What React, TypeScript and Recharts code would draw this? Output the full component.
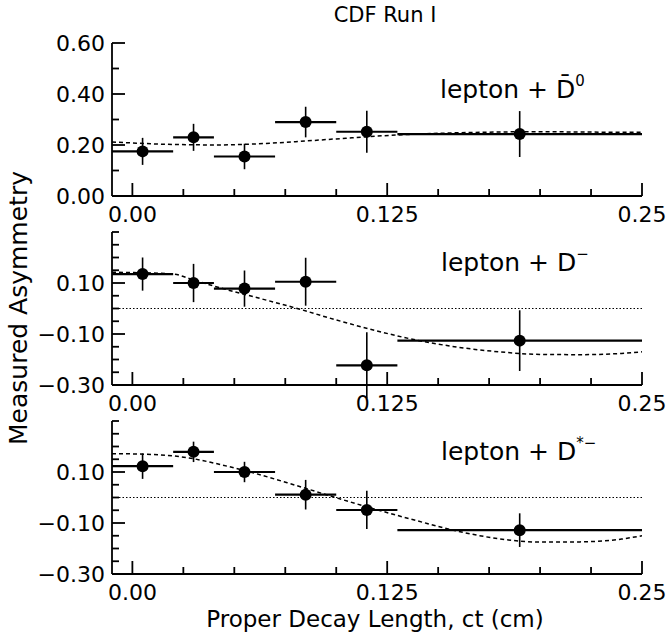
import React from 'react';
import { ComposedChart, Scatter, Line, XAxis, YAxis, ErrorBar, ReferenceLine } from 'recharts';

// bins in proper decay length ct (cm)
const binCenter = [0.005, 0.03, 0.055, 0.085, 0.115, 0.19];
const binLow = [-0.01, 0.02, 0.04, 0.07, 0.1, 0.13];
const binHigh = [0.02, 0.04, 0.07, 0.1, 0.13, 0.25];

// lepton + anti-D0
const d0Asym = [0.175, 0.23, 0.155, 0.29, 0.252, 0.243];
const d0Err = [0.053, 0.053, 0.05, 0.06, 0.082, 0.09];
// lepton + D-
const dmAsym = [0.135, 0.1, 0.078, 0.105, -0.223, -0.126];
const dmErr = [0.065, 0.075, 0.071, 0.094, 0.13, 0.119];
// lepton + D*-
const dsAsym = [0.123, 0.179, 0.1, 0.011, -0.049, -0.128];
const dsErr = [0.05, 0.04, 0.04, 0.058, 0.075, 0.066];

// fitted curves
const fitT = [-0.01, 0, 0.02, 0.03, 0.04, 0.06, 0.08, 0.1, 0.12, 0.14, 0.16, 0.18, 0.2, 0.22, 0.24, 0.25];
const d0Fit = [0.212, 0.208, 0.202, 0.201, 0.2, 0.204, 0.213, 0.224, 0.235, 0.243, 0.248, 0.251, 0.252, 0.251, 0.25, 0.25];
const dmFit = [0.142, 0.141, 0.135, 0.112, 0.088, 0.045, 0.002, -0.045, -0.088, -0.125, -0.152, -0.17, -0.18, -0.181, -0.176, -0.17];
const dsFit = [0.172, 0.171, 0.163, 0.152, 0.135, 0.095, 0.048, -0.001, -0.048, -0.092, -0.133, -0.162, -0.175, -0.174, -0.163, -0.15];

const xTicksAll = [0, 0.025, 0.05, 0.075, 0.1, 0.125, 0.15, 0.175, 0.2, 0.225, 0.25];
const xMajor = [0, 0.125, 0.25];
const xMajorLabels = ['0.00', '0.125', '0.25'];

const y1TicksAll = [0, 0.1, 0.2, 0.3, 0.4, 0.5, 0.6];
const y1Major = [0, 0.2, 0.4, 0.6];
const y1MajorLabels = ['0.00', '0.20', '0.40', '0.60'];

const y2TicksAll = [-0.3, -0.25, -0.2, -0.15, -0.1, -0.05, 0, 0.05, 0.1, 0.15, 0.2, 0.25, 0.3];
const y2Major = [-0.3, -0.1, 0.1];
const y2MajorLabels = ['\u22120.30', '\u22120.10', '0.10'];

const FONT = 'DejaVu Sans';
const TICK_FS = 22;
const PLOT_H = 153;
const M_TOP = 16;
const XAX_H = 40;
const LEFT_W = 112;
const RIGHT_M = 26;
const W = 668;

const near = (a: number, b: number) => Math.abs(a - b) < 1e-6;

function makePoints(asym: number[], err: number[]) {
  return binCenter.map((t, i) => ({
    t,
    a: asym[i],
    ey: err[i],
    ex: [t - binLow[i], binHigh[i] - t],
  }));
}
function makeFit(vals: number[]) {
  return fitT.map((t, i) => ({ t, fit: vals[i] }));
}

const Dot = (p: any) => <circle cx={p.cx} cy={p.cy} r={6} fill="#000" />;

function XTick(side: 'bottom' | 'top') {
  return (props: any) => {
    const { x, y, payload } = props;
    const idx = xMajor.findIndex((m) => near(m, payload.value));
    const major = idx >= 0;
    const len = major ? 13 : 7;
    const dir = side === 'bottom' ? -1 : 1;
    return (
      <g>
        <line x1={x} x2={x} y1={y} y2={y + dir * len} stroke="#000" strokeWidth={1.8} />
        {side === 'bottom' && major ? (
          <text x={x} y={y + 26} textAnchor="middle" fontFamily={FONT} fontSize={TICK_FS} fill="#000">
            {xMajorLabels[idx]}
          </text>
        ) : null}
      </g>
    );
  };
}

function YTick(side: 'left' | 'right', majors: number[], labels: string[]) {
  return (props: any) => {
    const { x, y, payload } = props;
    const idx = majors.findIndex((m) => near(m, payload.value));
    const major = idx >= 0;
    const len = major ? 13 : 7;
    const dir = side === 'left' ? 1 : -1;
    return (
      <g>
        <line x1={x} x2={x + dir * len} y1={y} y2={y} stroke="#000" strokeWidth={1.8} />
        {side === 'left' && major ? (
          <text x={x - 7} y={y} dy="0.36em" textAnchor="end" fontFamily={FONT} fontSize={TICK_FS} fill="#000">
            {labels[idx]}
          </text>
        ) : null}
      </g>
    );
  };
}

type PanelProps = {
  top: number;
  points: any[];
  fit: any[];
  yDomain: [number, number];
  yTicks: number[];
  yMajor: number[];
  yLabels: string[];
  zeroLine: boolean;
};

function Panel({ top, points, fit, yDomain, yTicks, yMajor, yLabels, zeroLine }: PanelProps) {
  const H = M_TOP + PLOT_H + XAX_H;
  return (
    <div style={{ position: 'absolute', left: 0, top: top - M_TOP, width: W, height: H }}>
      <ComposedChart width={W} height={H} margin={{ top: M_TOP, right: RIGHT_M, bottom: 0, left: 0 }}>
        <XAxis
          dataKey="t"
          type="number"
          domain={[-0.01, 0.25]}
          allowDataOverflow
          ticks={xTicksAll}
          interval={0}
          height={XAX_H}
          tickSize={0}
          tickMargin={0}
          tickLine={false}
          axisLine={{ stroke: '#000', strokeWidth: 1.8 }}
          tick={XTick('bottom')}
        />
        <XAxis
          xAxisId="top"
          orientation="top"
          dataKey="t"
          type="number"
          domain={[-0.01, 0.25]}
          allowDataOverflow
          ticks={xTicksAll}
          interval={0}
          height={0}
          tickSize={0}
          tickMargin={0}
          tickLine={false}
          axisLine={{ stroke: '#000', strokeWidth: 1.8 }}
          tick={XTick('top')}
        />
        <YAxis
          type="number"
          domain={yDomain}
          allowDataOverflow
          ticks={yTicks}
          interval={0}
          width={LEFT_W}
          tickSize={0}
          tickMargin={0}
          tickLine={false}
          axisLine={{ stroke: '#000', strokeWidth: 1.8 }}
          tick={YTick('left', yMajor, yLabels)}
        />
        <YAxis
          yAxisId="right"
          orientation="right"
          type="number"
          domain={yDomain}
          allowDataOverflow
          ticks={yTicks}
          interval={0}
          width={0}
          tickSize={0}
          tickMargin={0}
          tickLine={false}
          axisLine={{ stroke: '#000', strokeWidth: 1.8 }}
          tick={YTick('right', yMajor, yLabels)}
        />
        {zeroLine && <ReferenceLine y={0} stroke="#000" strokeWidth={1} strokeDasharray="1.5 2" />}
        <Line
          data={fit}
          dataKey="fit"
          type="monotone"
          stroke="#000"
          strokeWidth={1.5}
          strokeDasharray="4 3"
          dot={false}
          activeDot={false}
          isAnimationActive={false}
        />
        <Scatter data={points} dataKey="a" shape={Dot} isAnimationActive={false}>
          <ErrorBar dataKey="ey" direction="y" width={0} stroke="#000" strokeWidth={1.6} isAnimationActive={false} />
          <ErrorBar dataKey="ex" direction="x" width={0} stroke="#000" strokeWidth={2.2} isAnimationActive={false} />
        </Scatter>
      </ComposedChart>
    </div>
  );
}

export default function App() {
  return (
    <div style={{ position: 'absolute', left: 0, top: 0, width: W, height: 632, background: '#fff' }}>
      <Panel
        top={43}
        points={makePoints(d0Asym, d0Err)}
        fit={makeFit(d0Fit)}
        yDomain={[0, 0.6]}
        yTicks={y1TicksAll}
        yMajor={y1Major}
        yLabels={y1MajorLabels}
        zeroLine={false}
      />
      <Panel
        top={232}
        points={makePoints(dmAsym, dmErr)}
        fit={makeFit(dmFit)}
        yDomain={[-0.3, 0.3]}
        yTicks={y2TicksAll}
        yMajor={y2Major}
        yLabels={y2MajorLabels}
        zeroLine={true}
      />
      <Panel
        top={421}
        points={makePoints(dsAsym, dsErr)}
        fit={makeFit(dsFit)}
        yDomain={[-0.3, 0.3]}
        yTicks={y2TicksAll}
        yMajor={y2Major}
        yLabels={y2MajorLabels}
        zeroLine={true}
      />
      <svg
        width={W}
        height={632}
        style={{ position: 'absolute', left: 0, top: 0, pointerEvents: 'none' }}
        fontFamily={FONT}
        fill="#000"
      >
        <text x={385} y={22} textAnchor="middle" fontSize={21}>CDF Run I</text>
        <text x={440} y={98} fontSize={25}>
          lepton + D{'\u0304'}<tspan dy={-12} fontSize={15}>0</tspan>
        </text>
        <text x={441} y={271} fontSize={25}>
          lepton + D<tspan dy={-12} fontSize={15}>{'\u2212'}</tspan>
        </text>
        <text x={441} y={460} fontSize={25}>
          lepton + D<tspan dy={-12} fontSize={15}>{'*\u2212'}</tspan>
        </text>
        <text x={375} y={626.5} textAnchor="middle" fontSize={23}>Proper Decay Length, ct (cm)</text>
        <text x={0} y={0} transform="translate(27,308) rotate(-90)" textAnchor="middle" fontSize={25}>
          Measured Asymmetry
        </text>
      </svg>
    </div>
  );
}
